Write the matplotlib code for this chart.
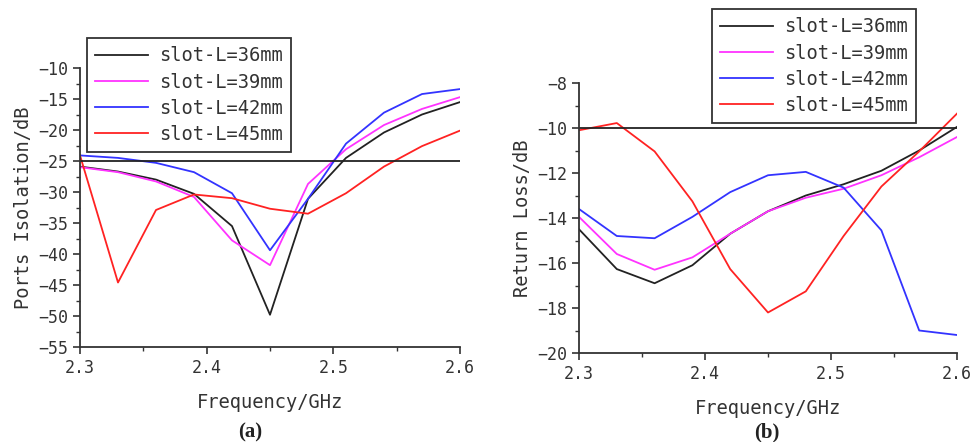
import matplotlib
matplotlib.use("Agg")
import matplotlib.pyplot as plt
from matplotlib.ticker import MultipleLocator

plt.rcParams['font.family'] = ['DejaVu Sans Mono']
plt.rcParams['axes.unicode_minus'] = True

freq = [2.30, 2.33, 2.36, 2.39, 2.42, 2.45, 2.48, 2.51, 2.54, 2.57, 2.60]
labels = ["slot-L=36mm", "slot-L=39mm", "slot-L=42mm", "slot-L=45mm"]
colors = ["#222222", "#ff33ff", "#3333ff", "#ff2222"]

# (a) ports isolation, dB
iso_36 = [-25.9, -26.7, -28.0, -30.3, -35.5, -49.8, -31.1, -24.5, -20.4, -17.5, -15.5]
iso_39 = [-26.0, -26.8, -28.3, -30.8, -37.8, -41.8, -28.7, -23.1, -19.2, -16.6, -14.7]
iso_42 = [-24.1, -24.5, -25.3, -26.8, -30.2, -39.4, -31.1, -22.2, -17.2, -14.2, -13.4]
iso_45 = [-24.1, -44.6, -32.9, -30.4, -31.0, -32.7, -33.5, -30.2, -25.9, -22.6, -20.1]
iso_ref = -25

# (b) return loss, dB
rl_36 = [-14.5, -16.27, -16.9, -16.1, -14.7, -13.7, -13.0, -12.5, -11.9, -11.0, -9.95]
rl_39 = [-13.95, -15.6, -16.3, -15.75, -14.7, -13.7, -13.1, -12.7, -12.1, -11.3, -10.4]
rl_42 = [-13.6, -14.8, -14.9, -13.95, -12.85, -12.1, -11.95, -12.65, -14.55, -19.0, -19.2]
rl_45 = [-10.1, -9.78, -11.04, -13.26, -16.27, -18.2, -17.26, -14.8, -12.6, -11.04, -9.36]
rl_ref = -10

W, H = 972, 442
fig = plt.figure(figsize=(W / 100, H / 100), dpi=100)


def setup(ax, ylabel, major, minor):
    ax.spines['top'].set_visible(False)
    ax.spines['right'].set_visible(False)
    for s in ('left', 'bottom'):
        ax.spines[s].set_linewidth(1.3)
        ax.spines[s].set_color('#333333')
    ax.set_xlim(2.3, 2.6)
    ax.xaxis.set_major_locator(MultipleLocator(0.1))
    ax.xaxis.set_minor_locator(MultipleLocator(0.05))
    ax.yaxis.set_major_locator(MultipleLocator(major))
    ax.yaxis.set_minor_locator(MultipleLocator(minor))
    ax.tick_params(which='major', direction='out', length=5, width=1.2,
                   labelsize=12, colors='#333333')
    ax.tick_params(which='minor', direction='out', length=3, width=1.0,
                   colors='#333333')
    ax.set_xlabel("Frequency/GHz", fontsize=13.5, color='#333333')
    ax.set_ylabel(ylabel, fontsize=13.5, color='#333333')


def px(x, y, w, h):
    return [x / W, 1 - (y + h) / H, w / W, h / H]


ax1 = fig.add_axes(px(80, 68, 380, 279))
for ys, c, lab in zip([iso_36, iso_39, iso_42, iso_45], colors, labels):
    ax1.plot(freq, ys, color=c, lw=1.3, label=lab)
ax1.axhline(iso_ref, color='#222222', lw=1.3)
ax1.set_ylim(-55, -10)
setup(ax1, "Ports Isolation/dB", 5, 2.5)
ax1.xaxis.labelpad = 12
ax1.yaxis.labelpad = 4

ax2 = fig.add_axes(px(579, 83, 378, 270))
for ys, c, lab in zip([rl_36, rl_39, rl_42, rl_45], colors, labels):
    ax2.plot(freq, ys, color=c, lw=1.3, label=lab)
ax2.axhline(rl_ref, color='#222222', lw=1.3)
ax2.set_ylim(-20, -8)
setup(ax2, "Return Loss/dB", 2, 1)
ax2.xaxis.labelpad = 12
ax2.yaxis.labelpad = 4

leg_kw = dict(loc='upper left', fontsize=13.5, frameon=True, fancybox=False,
              framealpha=1, edgecolor='#333333', handlelength=2.8,
              handletextpad=0.6, labelspacing=0.38, borderpad=0.45,
              borderaxespad=0, bbox_transform=fig.transFigure)
l1 = ax1.legend(bbox_to_anchor=(87 / W, 1 - 38 / H), **leg_kw)
l2 = ax2.legend(bbox_to_anchor=(712 / W, 1 - 9 / H), **leg_kw)
for lg in (l1, l2):
    lg.get_frame().set_linewidth(1.3)
    for t in lg.get_texts():
        t.set_color('#333333')

fig.text(250 / W, 1 - 432 / H, "(a)", ha='center', va='center', fontsize=15,
         fontweight='bold', family='Liberation Serif', color='#222222')
fig.text(767 / W, 1 - 432 / H, "(b)", ha='center', va='center', fontsize=15,
         fontweight='bold', family='Liberation Serif', color='#222222')

fig.savefig("out.png", dpi=100)
